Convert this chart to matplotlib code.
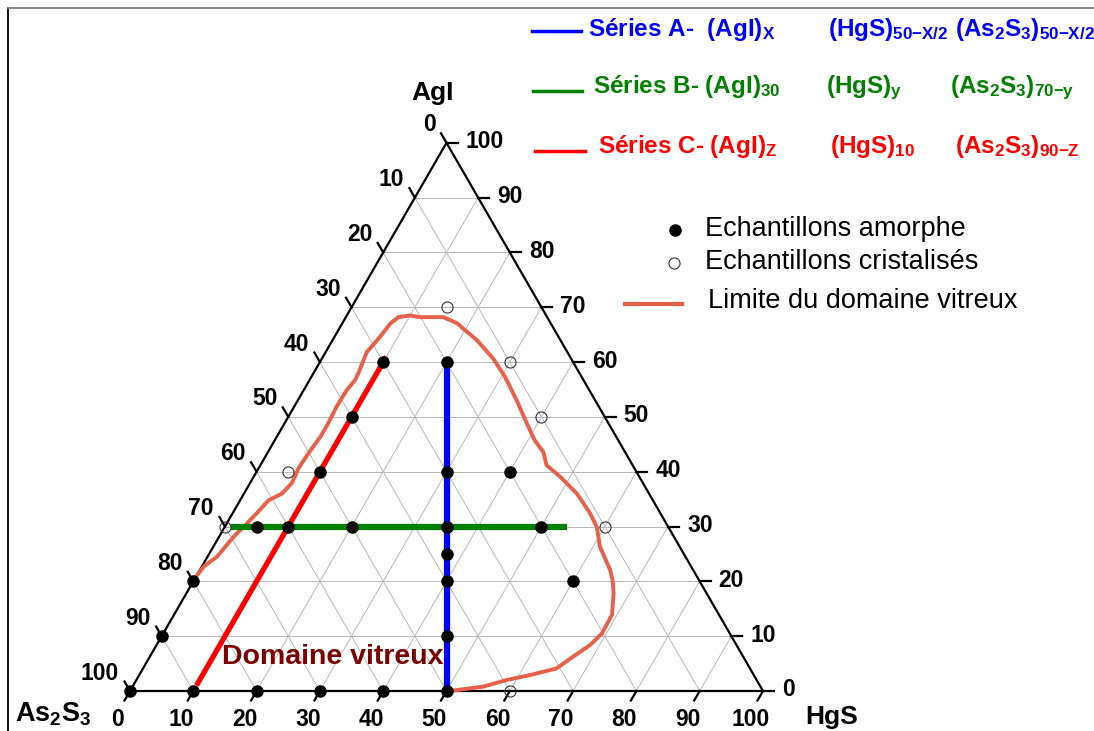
import numpy as np
import matplotlib.pyplot as plt
from matplotlib.lines import Line2D

plt.rcParams['font.family'] = ['Liberation Sans', 'DejaVu Sans']
plt.rcParams['mathtext.fontset'] = 'custom'
plt.rcParams['mathtext.rm'] = 'Liberation Sans'
plt.rcParams['mathtext.bf'] = 'Liberation Sans:bold'
plt.rcParams['mathtext.it'] = 'Liberation Sans:italic'

# compositions in % : AgI and HgS, As2S3 is the remainder
amorphe_agi = [0, 0, 0, 0, 0, 0, 10, 20, 30, 30, 30, 30, 30, 40, 40, 40, 50, 60, 60, 25, 20, 10, 20]
amorphe_hgs = [0, 10, 20, 30, 40, 50, 0, 0, 5, 10, 20, 35, 50, 10, 30, 40, 10, 10, 20, 37.5, 40, 45, 60]
cristal_agi = [70, 60, 50, 40, 30, 30, 0]
cristal_hgs = [15, 30, 40, 5, 0, 60, 60]

# series A: (AgI)x (HgS)50-x/2 (As2S3)50-x/2
serie_a_agi = [0, 60]
serie_a_hgs = [50, 20]
# series B: (AgI)30 (HgS)y (As2S3)70-y
serie_b_agi = [30, 30]
serie_b_hgs = [1, 54]
# series C: (AgI)z (HgS)10 (As2S3)90-z
serie_c_agi = [1, 61]
serie_c_hgs = [10, 10]

# limit of the glass forming region
limite_agi = [20.8, 22.7, 24.5, 26.3, 28.1, 30.6, 32.4, 34.8, 36.0, 37.9, 39.1, 40.6, 43.3,
              46.4, 48.8, 51.8, 54.9, 56.7, 57.9, 61.8, 64.6, 67.0, 68.2, 68.5, 68.2, 68.2,
              67.1, 64.0, 60.6, 57.3, 53.0, 48.8, 45.7, 43.6, 41.2, 39.1, 36.0, 32.4, 29.9,
              26.3, 22.1, 20.1, 17.8, 13.9, 10.5, 8.4, 6.3, 4.1, 2.9, 2.0, 0.8, 0]
limite_hgs = [0, 0.3, 1.5, 1.9, 2.3, 3.2, 3.8, 4.5, 6.0, 6.6, 6.5, 6.3, 6.5,
              6.9, 6.9, 6.7, 6.8, 7.2, 7.1, 6.5, 7.2, 7.6, 8.3, 10.0, 11.7, 15.4,
              18.1, 22.8, 27.1, 30.6, 34.6, 38.3, 41.1, 43.5, 45.2, 48.4, 52.6, 56.5, 58.8,
              61.1, 64.8, 66.2, 67.5, 69.2, 69.3, 68.5, 66.9, 65.3, 61.7, 58.5, 55.4, 50.5]

graduations = list(range(0, 101, 10))


def tern(agi, hgs):
    agi = np.asarray(agi, dtype=float)
    hgs = np.asarray(hgs, dtype=float)
    return (hgs + agi / 2) / 100, agi / 100 * np.sqrt(3) / 2


W, H = 1094, 731
X0, Y0, S = 130, 691, 633   # lower left corner and side of the triangle, in pixels


def fpos(x, y):
    return x / W, 1 - y / H


fig = plt.figure(figsize=(W / 100, H / 100), dpi=100)
ax = fig.add_axes([0, 0, 1, 1])
ax.set_xlim(-X0 / S, (W - X0) / S)
ax.set_ylim((Y0 - H) / S, Y0 / S)
ax.axis('off')

# grid
for v in graduations[1:-1]:
    for a, h in [([v, v], [0, 100 - v]), ([0, 100 - v], [v, v]), ([0, 100 - v], [100 - v, 0])]:
        gx, gy = tern(a, h)
        ax.plot(gx, gy, color='#b8b8b8', lw=0.7, zorder=1)

# triangle
tx, ty = tern([0, 100, 0, 0], [0, 0, 100, 0])
ax.plot(tx, ty, color='black', lw=1.6, zorder=2, solid_joinstyle='miter')

# ticks and labels
L = 11 / S
c60, s60 = 0.5, np.sqrt(3) / 2
lab = dict(fontsize=16.5, fontweight='bold', textcoords='offset pixels')
for v in graduations:
    # left side: As2S3
    px, py = tern(v, 0)
    ax.plot([px, px - c60 * L], [py, py + s60 * L], color='black', lw=1.6, zorder=2)
    ax.annotate(str(100 - v), (px, py), xytext=(-11, 18), ha='right', va='center', **lab)
    # right side: AgI
    px, py = tern(v, 100 - v)
    ax.plot([px, px + L], [py, py], color='black', lw=1.6, zorder=2)
    ax.annotate(str(v), (px, py), xytext=(19, 1), ha='left', va='center', **lab)
    # bottom: HgS
    px, py = tern(0, v)
    ax.plot([px, px - c60 * L], [py, py - s60 * L], color='black', lw=1.6, zorder=2)
    ax.annotate(str(v), (px, py), xytext=(-12, -29), ha='center', va='center', **lab)

# glass forming limit
lx, ly = tern(limite_agi, limite_hgs)
ax.plot(lx, ly, color='#e8604a', lw=2.8, zorder=3)

# series
for a, h, col, lw in [(serie_a_agi, serie_a_hgs, '#0000ff', 4.5),
                      (serie_b_agi, serie_b_hgs, '#008000', 4.5),
                      (serie_c_agi, serie_c_hgs, '#ff0000', 3.8)]:
    sx, sy = tern(a, h)
    ax.plot(sx, sy, color=col, lw=lw, zorder=4, solid_capstyle='butt')

# samples
ax_, ay_ = tern(amorphe_agi, amorphe_hgs)
ax.plot(ax_, ay_, 'o', ms=8, color='black', zorder=5)
cx, cy = tern(cristal_agi, cristal_hgs)
ax.plot(cx, cy, 'o', ms=8, mfc='none', mec='#303030', mew=0.8, zorder=5)

# vertex names
fig.text(*fpos(433, 100), 'AgI', fontsize=19, fontweight='bold', ha='center', va='baseline')
fig.text(*fpos(15, 722), r'As$_\mathbf{2}$S$_\mathbf{3}$', fontsize=19.5, fontweight='bold',
         ha='left', va='baseline')
fig.text(*fpos(805, 724), 'HgS', fontsize=19, fontweight='bold', ha='left', va='baseline')

fig.text(*fpos(222, 664), 'Domaine vitreux', fontsize=20.5, fontweight='bold', color='#7b0000',
         ha='left', va='baseline')

# series legend
rows = [
    ('#0000ff', 31, 532, 581, 36,
     [(588, r'Séries A-  (AgI)$_\mathbf{X}$'), (828, r'(HgS)$_\mathbf{50{-}X/2}$'),
      (955, r'(As$_\mathbf{2}$S$_\mathbf{3}$)$_\mathbf{50{-}X/2}$')]),
    ('#008000', 91, 533, 582, 93,
     [(593, r'Séries B- (AgI)$_\mathbf{30}$'), (826, r'(HgS)$_\mathbf{y}$'),
      (950, r'(As$_\mathbf{2}$S$_\mathbf{3}$)$_\mathbf{70{-}y}$')]),
    ('#ff0000', 151, 535, 585, 153,
     [(598, r'Séries C- (AgI)$_\mathbf{Z}$'), (830, r'(HgS)$_\mathbf{10}$'),
      (955, r'(As$_\mathbf{2}$S$_\mathbf{3}$)$_\mathbf{90{-}Z}$')]),
]
for col, yl, x1, x2, yb, parts in rows:
    fig.add_artist(Line2D([x1 / W, x2 / W], [1 - yl / H] * 2, color=col, lw=2.5))
    for xt, s in parts:
        fig.text(*fpos(xt, yb), s, fontsize=17.5, fontweight='bold', color=col,
                 ha='left', va='baseline')

# samples legend
fig.add_artist(Line2D([675 / W], [1 - 230 / H], marker='o', ms=8, color='black'))
fig.add_artist(Line2D([674 / W], [1 - 263 / H], marker='o', ms=8, mfc='none',
                      mec='#303030', mew=0.8))
fig.add_artist(Line2D([625 / W, 682 / W], [1 - 304 / H] * 2, color='#e8604a', lw=3))
fig.text(*fpos(705, 229), 'Echantillons amorphe', fontsize=19.5, va='center')
fig.text(*fpos(705, 262), 'Echantillons cristalisés', fontsize=19.5, va='center')
fig.text(*fpos(708, 301), 'Limite du domaine vitreux', fontsize=19.5, va='center')

# frame
fig.add_artist(Line2D([8 / W, 8 / W], [0, 1 - 8 / H], color='black', lw=1.3))
fig.add_artist(Line2D([8 / W, 1], [1 - 8 / H] * 2, color='#808080', lw=1.3))

fig.savefig('out.png', dpi=100)
